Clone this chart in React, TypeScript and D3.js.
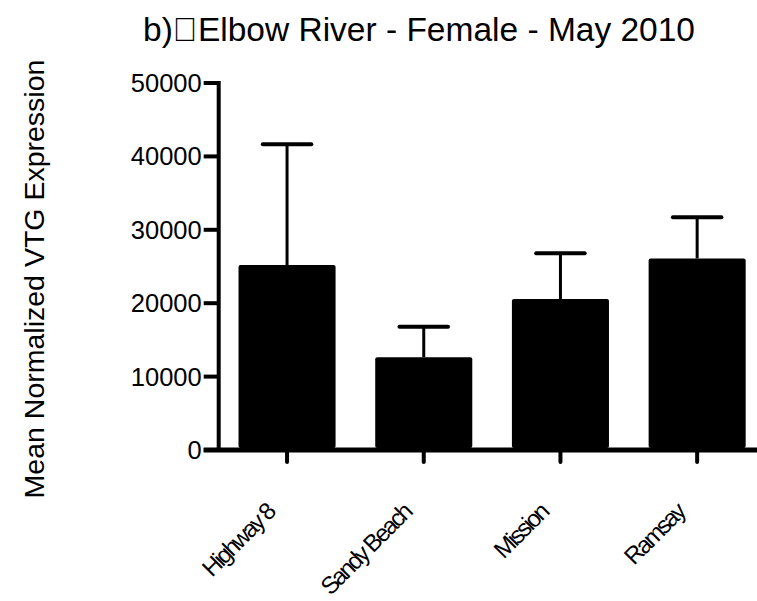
import { useEffect, useRef } from "react";
import * as d3 from "d3";

// Elbow River - Female - May 2010, mean normalized VTG expression by site
const sites = ["Highway 8", "Sandy Beach", "Mission", "Ramsay"];
const means = [25200, 12630, 20570, 26100];
const sems = [16450, 4170, 6230, 5600];
const yTicks = [0, 10000, 20000, 30000, 40000, 50000];

const title = "b)\uE000Elbow River - Female - May 2010";
const yLabel = "Mean Normalized VTG Expression";

export default function App() {
    const svgRef = useRef<SVGSVGElement | null>(null);

    const width = 757;
    const height = 601;
    const font = "'Liberation Sans', Arial, sans-serif";

    useEffect(() => {
        const svgEl = svgRef.current;
        if (!svgEl) return;

        const svg = d3.select(svgEl);
        svg.selectAll("*").remove();

        const axisX = 218.7;
        const axisY = 450;

        const x = d3
            .scaleBand<string>()
            .domain(sites)
            .range([axisX, 765.5])
            .paddingInner(0.29)
            .paddingOuter(0.145);

        const y = d3.scaleLinear().domain([0, 50000]).range([axisY, 83]);

        const rows = sites.map((s, i) => ({ site: s, mean: means[i], sem: sems[i] }));

        // error bars (upper only, lower half hidden by bar)
        const eb = svg.append("g");
        rows.forEach((d) => {
            const cx = (x(d.site) ?? 0) + x.bandwidth() / 2;
            eb.append("line")
                .attr("x1", cx)
                .attr("x2", cx)
                .attr("y1", y(d.mean))
                .attr("y2", y(d.mean + d.sem))
                .attr("stroke", "#000")
                .attr("stroke-width", 3);
            eb.append("line")
                .attr("x1", cx - x.bandwidth() / 4)
                .attr("x2", cx + x.bandwidth() / 4)
                .attr("y1", y(d.mean + d.sem))
                .attr("y2", y(d.mean + d.sem))
                .attr("stroke", "#000")
                .attr("stroke-width", 4)
                .attr("stroke-linecap", "round");
        });

        // bars
        svg.append("g")
            .selectAll("rect")
            .data(rows)
            .join("rect")
            .attr("x", (d) => x(d.site) ?? 0)
            .attr("width", x.bandwidth())
            .attr("y", (d) => y(d.mean))
            .attr("height", (d) => axisY - 2 - y(d.mean))
            .attr("rx", 2)
            .attr("fill", "#000");

        // y axis
        const ya = svg.append("g");
        ya.append("line")
            .attr("x1", axisX)
            .attr("x2", axisX)
            .attr("y1", y(50000) - 2)
            .attr("y2", axisY)
            .attr("stroke", "#000")
            .attr("stroke-width", 4);
        yTicks.forEach((t) => {
            ya.append("line")
                .attr("x1", axisX - 15)
                .attr("x2", axisX)
                .attr("y1", y(t))
                .attr("y2", y(t))
                .attr("stroke", "#000")
                .attr("stroke-width", 4);
            ya.append("text")
                .attr("x", axisX - 17)
                .attr("y", y(t))
                .attr("dy", "0.35em")
                .attr("text-anchor", "end")
                .attr("font-family", font)
                .attr("font-size", 25.5)
                .attr("fill", "#000")
                .text(String(t));
        });

        // x axis
        const xa = svg.append("g");
        xa.append("line")
            .attr("x1", axisX - 15)
            .attr("x2", width)
            .attr("y1", axisY)
            .attr("y2", axisY)
            .attr("stroke", "#000")
            .attr("stroke-width", 5);
        sites.forEach((s) => {
            const cx = (x(s) ?? 0) + x.bandwidth() / 2;
            xa.append("line")
                .attr("x1", cx)
                .attr("x2", cx)
                .attr("y1", axisY)
                .attr("y2", axisY + 12)
                .attr("stroke", "#000")
                .attr("stroke-width", 4)
                .attr("stroke-linecap", "round");
            xa.append("text")
                .attr("transform", `translate(${cx - 11},${axisY + 64}) rotate(-45)`)
                .attr("text-anchor", "end")
                .attr("font-family", font)
                .attr("font-size", 24)
                .attr("letter-spacing", -2.4)
                .attr("fill", "#000")
                .text(s);
        });

        // title
        svg.append("text")
            .attr("x", 143)
            .attr("y", 41)
            .attr("font-family", font)
            .attr("font-size", 33.5)
            .attr("fill", "#000")
            .text(title);

        // y label
        svg.append("text")
            .attr("transform", `translate(44,279) rotate(-90)`)
            .attr("text-anchor", "middle")
            .attr("font-family", font)
            .attr("font-size", 28.5)
            .attr("fill", "#000")
            .text(yLabel);
    }, []);

    return (
        <svg
            ref={svgRef}
            width={width}
            height={height}
            style={{ position: "absolute", left: 0, top: 0, background: "#fff" }}
        />
    );
}
